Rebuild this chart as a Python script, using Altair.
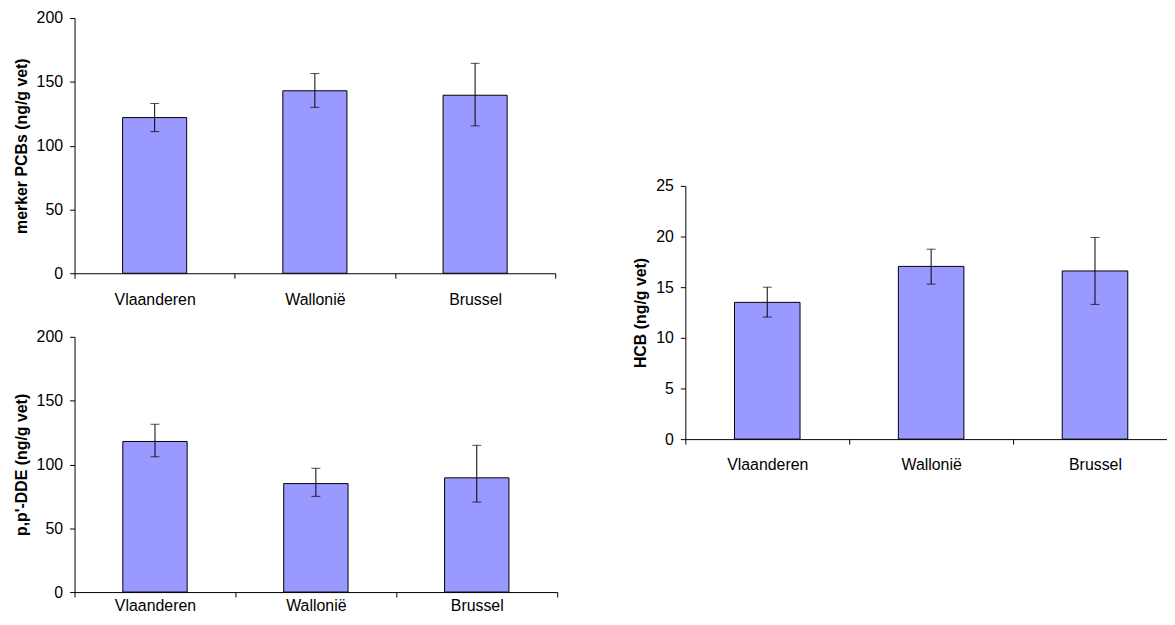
import altair as alt
import pandas as pd

regions = ["Vlaanderen", "Wallonië", "Brussel"]

pcb_mean = [122, 143, 139.5]
pcb_low = [111, 130, 115.5]
pcb_high = [133, 156.5, 164.5]

dde_mean = [118, 85, 89.5]
dde_low = [106, 75, 70.5]
dde_high = [131.5, 97, 115]

hcb_mean = [13.5, 17.05, 16.6]
hcb_low = [12.05, 15.3, 13.3]
hcb_high = [15.0, 18.75, 19.9]

pcb_ticks = [0, 50, 100, 150, 200]
dde_ticks = [0, 50, 100, 150, 200]
hcb_ticks = [0, 5, 10, 15, 20, 25]

FONT = "Liberation Sans"
BAR = "#9999FF"


def panel(mean, low, high, title, ticks, width, height, xpad=13):
    df = pd.DataFrame({"region": regions, "mean": mean, "low": low, "high": high})
    xs = alt.Scale(paddingInner=0, paddingOuter=0)
    x_axis = alt.Axis(labelAngle=0, tickBand="extent", labelPadding=xpad, tickSize=5,
                      title=None)
    x_main = alt.X("region:N", sort=regions, scale=xs, axis=x_axis, title=None)
    x_plain = alt.X("region:N", sort=regions, title=None)
    ys = alt.Scale(domain=[ticks[0], ticks[-1]], nice=False)
    y_axis = alt.Axis(title=title, values=ticks, tickSize=5, labelPadding=7,
                      titlePadding=7)
    base = alt.Chart(df)
    bars = base.mark_bar(color=BAR, stroke="black", strokeWidth=1,
                         width={"band": 0.4}).encode(
        x=x_main, y=alt.Y("mean:Q", scale=ys, axis=y_axis))
    rules = base.mark_rule(color="black", strokeWidth=1).encode(
        x=x_plain, y=alt.Y("low:Q"), y2="high:Q")
    cap_lo = base.mark_tick(color="black", size=9, thickness=1).encode(
        x=x_plain, y=alt.Y("low:Q"))
    cap_hi = base.mark_tick(color="black", size=9, thickness=1).encode(
        x=x_plain, y=alt.Y("high:Q"))
    return alt.layer(bars, rules, cap_lo, cap_hi).properties(width=width, height=height)


top = panel(pcb_mean, pcb_low, pcb_high, "merker PCBs (ng/g vet)", pcb_ticks, 484, 257)
bottom = panel(dde_mean, dde_low, dde_high, "p,p'-DDE (ng/g vet)", dde_ticks, 486, 257,
               xpad=1)
# the right panel's category axis runs past the right edge and is cut off there
right = panel(hcb_mean, hcb_low, hcb_high, "HCB (ng/g vet)", hcb_ticks, 495, 255)

spacer = alt.Chart(pd.DataFrame({"v": [0]})).mark_text(text="").encode(
    x=alt.value(0), y=alt.value(0)).properties(width=10, height=161)

left_col = alt.vconcat(top, bottom, spacing=22)
right_col = alt.vconcat(spacer, right, spacing=0)

chart = alt.hconcat(left_col, right_col, spacing=75).properties(
    padding={"left": 5, "top": 0, "right": -11, "bottom": 0}
).configure_view(stroke=None).configure_axis(
    labelFont=FONT, titleFont=FONT, labelFontSize=16, titleFontSize=16,
    titleFontWeight="bold", labelColor="black", titleColor="black",
    domainColor="black", tickColor="black", grid=False,
)

chart.save("out.html", embed_options={"renderer": "svg", "actions": False})
